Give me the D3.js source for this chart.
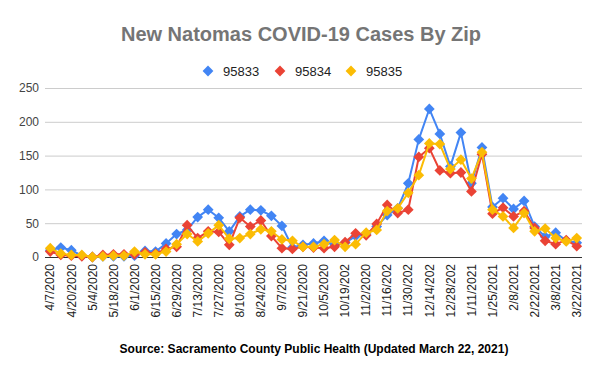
<!DOCTYPE html>
<meta charset="utf-8">
<style>
body { margin: 0; background: #fff; }
text { font-family: "Liberation Sans", Arial, sans-serif; }
.grid line { stroke: #ccc; stroke-width: 1px; }
.y-axis text { fill: #444; font-size: 12px; }
.x-axis text { fill: #222; font-size: 12px; }
</style>
<svg width="600" height="373"></svg>
<script src="https://cdnjs.cloudflare.com/ajax/libs/d3/7.8.5/d3.min.js"></script>
<script>

// weekly dates, first one is 4/7/2020 then Mondays
var dates = ["4/7/2020","4/13/2020","4/20/2020","4/27/2020","5/4/2020","5/11/2020","5/18/2020","5/25/2020",
  "6/1/2020","6/8/2020","6/15/2020","6/22/2020","6/29/2020","7/6/2020","7/13/2020","7/20/2020",
  "7/27/2020","8/3/2020","8/10/2020","8/17/2020","8/24/2020","8/31/2020","9/7/2020","9/14/2020",
  "9/21/2020","9/28/2020","10/5/2020","10/12/2020","10/19/2020","10/26/2020","11/2/2020","11/9/2020",
  "11/16/2020","11/23/2020","11/30/2020","12/7/2020","12/14/2020","12/21/2020","12/28/2020","1/4/2021",
  "1/11/2021","1/18/2021","1/25/2021","2/1/2021","2/8/2021","2/15/2021","2/22/2021","3/1/2021",
  "3/8/2021","3/15/2021","3/22/2021"];

var zip95833 = [10,14,10,2,0,1,1,1,2,9,8,20,34,40,59,70,58,38,60,70,69,61,46,14,
  18,20,24,18,21,31,34,45,62,72,109,174,219,182,134,184,109,162,74,87,71,83,45,30,36,24,21];
var zip95834 = [8,3,2,1,0,3,4,4,4,7,5,12,15,47,28,38,37,18,58,45,54,31,13,12,
  15,14,13,15,22,35,32,49,77,65,70,148,161,128,124,125,97,152,64,73,60,68,43,24,19,25,16];
var zip95835 = [13,5,3,3,0,1,2,2,8,4,4,8,19,34,23,35,47,27,28,34,41,38,26,24,
  15,15,19,25,15,19,36,40,68,72,95,121,168,167,130,144,116,155,70,60,43,65,38,42,28,23,28];

var seriesNames = ["95833", "95834", "95835"];
var seriesColors = ["#4285F4", "#EA4335", "#FBBC04"];
var yTicks = [0, 50, 100, 150, 200, 250];

var svg = d3.select("svg"),
    width = +svg.attr("width"),
    height = +svg.attr("height");

var margin = {left: 45, right: 18, top: 88, bottom: 116};

var x = d3.scaleBand()
    .domain(dates)
    .range([margin.left, width - margin.right]);

var y = d3.scaleLinear()
    .domain([0, 250])
    .range([height - margin.bottom, margin.top]);

// title
svg.append("text")
    .attr("x", 301)
    .attr("y", 41)
    .attr("text-anchor", "middle")
    .attr("fill", "#757575")
    .style("font-size", "20px")
    .style("font-weight", "bold")
    .text("New Natomas COVID-19 Cases By Zip");

// gridlines
svg.append("g")
    .attr("class", "grid")
  .selectAll("line")
  .data(yTicks.slice(1))
  .enter().append("line")
    .attr("x1", margin.left)
    .attr("x2", width - margin.right)
    .attr("y1", function(d) { return y(d) + 0.5; })
    .attr("y2", function(d) { return y(d) + 0.5; });

var yAxis = svg.append("g")
    .attr("class", "y-axis")
    .attr("transform", "translate(" + (margin.left - 6) + ",0)")
    .call(d3.axisLeft(y).tickValues(yTicks).tickSize(0).tickPadding(0));
yAxis.select(".domain").remove();
yAxis.selectAll("text").style("font-family", "'Liberation Sans', Arial, sans-serif");

// baseline
svg.append("line")
    .attr("x1", margin.left)
    .attr("x2", width - margin.right)
    .attr("y1", y(0) + 0.5)
    .attr("y2", y(0) + 0.5)
    .attr("stroke", "#333")
    .attr("stroke-width", 1);

// x axis, every other week, long labels clipped like the original
var xAxis = svg.append("g")
    .attr("class", "x-axis")
    .attr("transform", "translate(0," + (y(0) + 7) + ")")
    .call(d3.axisBottom(x)
      .tickValues(dates.filter(function(d, i) { return i % 2 == 0; }))
      .tickFormat(function(d) { return d.slice(0, 9); })
      .tickSize(0).tickPadding(0));
xAxis.select(".domain").remove();
xAxis.selectAll("text")
    .style("font-family", "'Liberation Sans', Arial, sans-serif")
    .attr("text-anchor", "end")
    .attr("transform", "rotate(-90)")
    .attr("x", 0)
    .attr("y", 0)
    .attr("dy", "0.35em");

var cx = function(d, i) { return x(dates[i]) + x.bandwidth() / 2; };
var diamond = d3.symbol(d3.symbolSquare, 58);

[zip95833, zip95834, zip95835].forEach(function(values, k) {
  var line = d3.line()
      .x(cx)
      .y(function(d) { return y(d); });

  var g = svg.append("g");
  g.append("path")
      .datum(values)
      .attr("fill", "none")
      .attr("stroke", seriesColors[k])
      .attr("stroke-width", 2)
      .attr("stroke-linejoin", "round")
      .attr("d", line);

  g.selectAll("path.pt")
    .data(values)
    .enter().append("path")
      .attr("class", "pt")
      .attr("fill", seriesColors[k])
      .attr("d", diamond)
      .attr("transform", function(d, i) {
        return "translate(" + cx(d, i) + "," + y(d) + ") rotate(45)";
      });
});

// legend
var legendX = [208, 280, 351];
var legend = svg.append("g")
  .selectAll("g")
  .data(seriesNames)
  .enter().append("g")
    .attr("transform", function(d, i) { return "translate(" + legendX[i] + ",71)"; });

legend.append("path")
    .attr("d", d3.symbol(d3.symbolSquare, 58))
    .attr("transform", "rotate(45)")
    .attr("fill", function(d, i) { return seriesColors[i]; });

legend.append("text")
    .attr("x", 15)
    .attr("dy", "0.35em")
    .attr("fill", "#222")
    .style("font-size", "13px")
    .text(function(d) { return d; });

// source note
svg.append("text")
    .attr("x", 314)
    .attr("y", 353)
    .attr("text-anchor", "middle")
    .attr("fill", "#000")
    .style("font-size", "12px")
    .style("font-weight", "bold")
    .text("Source: Sacramento County Public Health (Updated March 22, 2021)");

</script>
